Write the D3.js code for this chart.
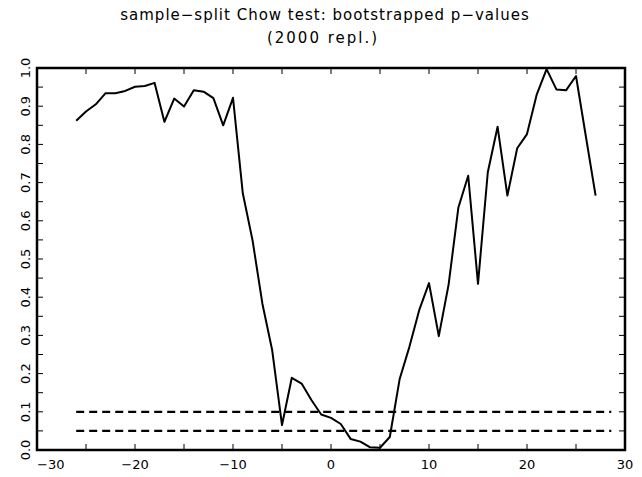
<!DOCTYPE html>
<html>
<head>
<meta charset="utf-8">
<script src="https://cdn.jsdelivr.net/npm/d3@7"></script>
<style>
body { margin: 0; background: #fff; }
text { font-family: "DejaVu Sans", sans-serif; fill: #000; }
</style>
</head>
<body>
<script>
var width = 642,
	height = 477,
	margin = {top: 68, right: 17, bottom: 27, left: 37};

// break point positions and bootstrapped p-values
var breaks = [-26, -25, -24, -23, -22, -21, -20, -19, -18, -17, -16, -15, -14, -13, -12, -11, -10, -9, -8, -7,
	-6, -5, -4, -3, -2, -1, 0, 1, 2, 3, 4, 5, 6, 7, 8, 9, 10, 11, 12, 13,
	14, 15, 16, 17, 18, 19, 20, 21, 22, 23, 24, 25, 26, 27];
var pvalues = [0.862, 0.886, 0.905, 0.934, 0.934, 0.940, 0.951, 0.953, 0.961, 0.859, 0.920, 0.899, 0.942, 0.938, 0.921, 0.850, 0.922, 0.672, 0.548, 0.383,
	0.261, 0.065, 0.189, 0.174, 0.131, 0.093, 0.084, 0.068, 0.029, 0.022, 0.007, 0.006, 0.034, 0.185, 0.270, 0.366, 0.437, 0.298, 0.433, 0.635,
	0.718, 0.435, 0.727, 0.846, 0.666, 0.790, 0.827, 0.931, 0.997, 0.944, 0.942, 0.979, 0.822, 0.666];

// significance levels drawn as dashed lines
var levels = [0.10, 0.05];
var levelRange = [-26, 28.6];

var xTickLabels = [-30, -20, -10, 0, 10, 20, 30];
var yTickLabels = [0.0, 0.1, 0.2, 0.3, 0.4, 0.5, 0.6, 0.7, 0.8, 0.9, 1.0];

var x = d3.scaleLinear().domain([-30, 30]).range([margin.left, width - margin.right]);
var y = d3.scaleLinear().domain([0, 1]).range([height - margin.bottom, margin.top]);

var svg = d3.select("body")
	.append("svg")
	.attr("width", width)
	.attr("height", height);

// title
svg.append("text")
	.attr("x", width / 2 + 4)
	.attr("y", 20)
	.attr("text-anchor", "middle")
	.style("font-size", "15px")
	.style("letter-spacing", "1px")
	.text("sample\u2212split Chow test: bootstrapped p\u2212values");
svg.append("text")
	.attr("x", width / 2 + 2)
	.attr("y", 43)
	.attr("text-anchor", "middle")
	.style("font-size", "15px")
	.style("letter-spacing", "2px")
	.text("(2000 repl.)");

// inner ticks on all four sides
var xMinor = d3.range(-30, 30.1, 5),
	yMinor = d3.range(0, 1.001, 0.05),
	tl = 6;

var ticks = svg.append("g").attr("stroke", "#000").attr("stroke-width", 1);
xMinor.forEach(function(v) {
	ticks.append("line").attr("x1", x(v)).attr("x2", x(v)).attr("y1", y(0)).attr("y2", y(0) - tl);
	ticks.append("line").attr("x1", x(v)).attr("x2", x(v)).attr("y1", y(1)).attr("y2", y(1) + tl);
});
yMinor.forEach(function(v) {
	ticks.append("line").attr("x1", x(-30)).attr("x2", x(-30) + tl).attr("y1", y(v)).attr("y2", y(v));
	ticks.append("line").attr("x1", x(30)).attr("x2", x(30) - tl).attr("y1", y(v)).attr("y2", y(v));
});

// tick labels
svg.append("g").selectAll("text")
	.data(xTickLabels)
	.enter().append("text")
	.attr("x", function(d) { return x(d); })
	.attr("y", height - margin.bottom + 19)
	.attr("text-anchor", function(d, i) { return i == 0 ? "start" : "middle"; })
	.style("font-size", "13px")
	.text(function(d) { return d < 0 ? "\u2212" + Math.abs(d) : d; });

svg.append("g").selectAll("text")
	.data(yTickLabels)
	.enter().append("text")
	.attr("transform", function(d) { return "translate(30," + y(d) + ") rotate(-90)"; })
	.attr("text-anchor", "middle")
	.style("font-size", "13px")
	.text(function(d) { return d.toFixed(1); });

// dashed significance lines
svg.append("g").selectAll("line")
	.data(levels)
	.enter().append("line")
	.attr("x1", x(levelRange[0]))
	.attr("x2", x(levelRange[1]))
	.attr("y1", function(d) { return y(d); })
	.attr("y2", function(d) { return y(d); })
	.attr("stroke", "#000")
	.attr("stroke-width", 2.2)
	.attr("stroke-dasharray", "8,5");

// p-value curve
var line = d3.line()
	.x(function(d, i) { return x(breaks[i]); })
	.y(function(d) { return y(d); });

svg.append("path")
	.datum(pvalues)
	.attr("d", line)
	.attr("fill", "none")
	.attr("stroke", "#000")
	.attr("stroke-width", 2)
	.attr("stroke-linejoin", "round");

// frame
svg.append("rect")
	.attr("x", x(-30))
	.attr("y", y(1))
	.attr("width", x(30) - x(-30))
	.attr("height", y(0) - y(1))
	.attr("fill", "none")
	.attr("stroke", "#000")
	.attr("stroke-width", 2.5);
</script>
</body>
</html>
